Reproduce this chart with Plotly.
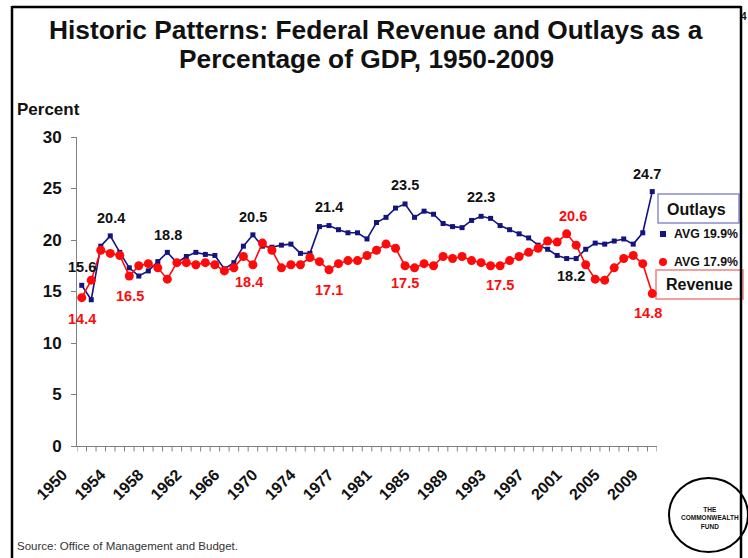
import plotly.graph_objects as go

# ---------------- data ----------------
years = [str(y) for y in range(1950, 1977)] + ["TQ"] + [str(y) for y in range(1977, 2010)]

outlays = [15.6, 14.2, 19.4, 20.4, 18.8, 17.3, 16.5, 17.0, 17.9, 18.8,
           17.8, 18.4, 18.8, 18.6, 18.5, 17.2, 17.8, 19.4, 20.5, 19.4,
           19.3, 19.5, 19.6, 18.7, 18.7, 21.3, 21.4, 21.0, 20.7, 20.7,
           20.1, 21.7, 22.2, 23.1, 23.5, 22.2, 22.8, 22.5, 21.6, 21.3,
           21.2, 21.9, 22.3, 22.1, 21.4, 21.0, 20.6, 20.2, 19.5, 19.1,
           18.5, 18.2, 18.2, 19.1, 19.7, 19.6, 19.9, 20.1, 19.6, 20.7,
           24.7]

revenue = [14.4, 16.1, 19.0, 18.7, 18.5, 16.5, 17.5, 17.7, 17.3, 16.2,
           17.8, 17.8, 17.6, 17.8, 17.6, 17.0, 17.3, 18.4, 17.6, 19.7,
           19.0, 17.3, 17.6, 17.6, 18.3, 17.9, 17.1, 17.7, 18.0, 18.0,
           18.5, 19.0, 19.6, 19.2, 17.5, 17.3, 17.7, 17.5, 18.4, 18.2,
           18.4, 18.0, 17.8, 17.5, 17.5, 18.0, 18.4, 18.8, 19.2, 19.9,
           19.8, 20.6, 19.5, 17.6, 16.2, 16.1, 17.3, 18.2, 18.5, 17.7,
           14.8]

tick_labels = ["1950", "1954", "1958", "1962", "1966", "1970", "1974", "1977",
               "1981", "1985", "1989", "1993", "1997", "2001", "2005", "2009"]

outlay_label_years = ["1950", "1953", "1959", "1968", "1976", "1983", "1991", "2001", "2009"]
revenue_label_years = ["1950", "1955", "1967", "1976", "1983", "1993", "2000", "2009"]

avg_outlays = "AVG 19.9%"
avg_revenue = "AVG 17.9%"

# ---------------- style ----------------
W, H = 748, 558
FONT = "Arial, 'Liberation Sans', sans-serif"
BLUE = "#14147f"
RED = "#ff0a0a"

def px(x):
    return x / W

def py(y):
    return 1 - y / H

xs = list(range(len(years)))
idx = {y: i for i, y in enumerate(years)}
xrange_ = [-0.5, len(years) - 0.5]
boundaries = [i - 0.5 for i in range(len(years) + 1)]

fig = go.Figure()
fig.add_trace(go.Scatter(x=xs, y=outlays, mode="lines+markers",
                         line=dict(color=BLUE, width=1.6),
                         marker=dict(symbol="square", size=5, color=BLUE),
                         showlegend=False, hoverinfo="skip"))
fig.add_trace(go.Scatter(x=xs, y=revenue, mode="lines+markers",
                         line=dict(color=RED, width=1.6),
                         marker=dict(symbol="circle", size=9, color=RED),
                         showlegend=False, hoverinfo="skip"))

annotations = []
# data labels
out_shift = {"1950": (0, 18), "1953": (1, 18), "1959": (1, 17), "1968": (0, 18),
             "1976": (0, 19), "1983": (0, 19), "1991": (0, 19), "2001": (-5, -17),
             "2009": (-5, 18)}
for yr in outlay_label_years:
    i = idx[yr]
    dx, dy = out_shift[yr]
    annotations.append(dict(x=i, y=outlays[i], xref="x", yref="y", text=f"{outlays[i]:.1f}",
                            showarrow=False, xshift=dx, yshift=dy, xanchor="center", yanchor="middle",
                            font=dict(family=FONT, size=14.5, color="#111111", weight="bold")))
rev_shift = {"1950": (0, -21), "1955": (1, -20), "1967": (6, -26), "1976": (0, -20),
             "1983": (0, -17), "1993": (0, -19), "2000": (6, 18), "2009": (-4, -19)}
for yr in revenue_label_years:
    i = idx[yr]
    dx, dy = rev_shift[yr]
    annotations.append(dict(x=i, y=revenue[i], xref="x", yref="y", text=f"{revenue[i]:.1f}",
                            showarrow=False, xshift=dx, yshift=dy, xanchor="center", yanchor="middle",
                            font=dict(family=FONT, size=14.5, color=RED, weight="bold")))

def note(x, y, text, size, anchor="center", bold=True, color="#111111"):
    f = dict(family=FONT, size=size, color=color)
    if bold:
        f["weight"] = "bold"
    return dict(x=px(x), y=py(y), xref="paper", yref="paper", showarrow=False,
                xanchor=anchor, yanchor="middle", text=text, font=f)

annotations += [
    note(376, 30.5, "Historic Patterns: Federal Revenue and Outlays as a", 26.3),
    note(366, 58.5, "Percentage of GDP, 1950-2009", 26.3),
    note(15, 110, "Percent", 17, anchor="left"),
    note(15, 546, "Source: Office of Management and Budget.", 11.5, anchor="left",
         bold=False, color="#333333"),
    note(744, 16, "4", 10),
    note(696, 209, "Outlays", 16),
    note(699, 284, "Revenue", 16),
    note(672, 234, avg_outlays, 12.3, anchor="left"),
    note(672, 262, avg_revenue, 12.3, anchor="left"),
    note(710, 518, "THE<br>COMMONWEALTH<br>FUND", 6.5),
]

shapes = [
    # slide frame
    dict(type="line", xref="paper", yref="paper", x0=px(12), x1=px(12), y0=py(6), y1=py(560),
         line=dict(color="black", width=2.5)),
    dict(type="line", xref="paper", yref="paper", x0=px(12), x1=px(741), y0=py(7), y1=py(7),
         line=dict(color="black", width=2.5)),
    dict(type="line", xref="paper", yref="paper", x0=px(741), x1=px(741), y0=py(6), y1=py(560),
         line=dict(color="black", width=2.5)),
    # legend boxes
    dict(type="rect", xref="paper", yref="paper", x0=px(658), x1=px(739), y0=py(194), y1=py(223),
         line=dict(color="#8a8ad0", width=1.5), fillcolor="white", layer="below"),
    dict(type="rect", xref="paper", yref="paper", x0=px(656), x1=px(743), y0=py(270), y1=py(299),
         line=dict(color="#f08080", width=1.5), fillcolor="white", layer="below"),
    # legend symbols
    dict(type="rect", xref="paper", yref="paper", x0=px(660), x1=px(666), y0=py(231), y1=py(237),
         line=dict(width=0), fillcolor=BLUE),
    dict(type="circle", xref="paper", yref="paper", x0=px(659), x1=px(667), y0=py(258), y1=py(266),
         line=dict(width=0), fillcolor=RED),
    # logo circle
    dict(type="circle", xref="paper", yref="paper", x0=px(669), x1=px(748), y0=py(478), y1=py(552),
         line=dict(color="black", width=2), fillcolor="white", layer="below"),
]
# category-boundary tick marks under the x axis
for b in boundaries:
    shapes.append(dict(type="line", xref="x", yref="paper", x0=b, x1=b,
                       y0=py(446), y1=py(451.5), line=dict(color="#808080", width=1)))

fig.update_layout(
    width=W, height=H,
    margin=dict(l=0, r=0, t=0, b=0, pad=0, autoexpand=False),
    paper_bgcolor="white", plot_bgcolor="white",
    annotations=annotations, shapes=shapes,
    showlegend=False,
    xaxis=dict(domain=[px(77), px(657)], range=xrange_,
               tickmode="array", tickvals=[idx[t] for t in tick_labels], ticktext=tick_labels,
               tickangle=-45, ticks="", showgrid=False, zeroline=False, automargin=False,
               ticklabelstandoff=12, ticklabelshift=-19,
               showline=True, linecolor="#808080", linewidth=1,
               tickfont=dict(family=FONT, size=16, color="#111111", weight="bold")),
    yaxis=dict(domain=[1 - 446 / H, 1 - 137 / H], range=[0, 30],
               tickmode="array", tickvals=[0, 5, 10, 15, 20, 25, 30],
               ticks="outside", ticklen=5, tickcolor="#808080", automargin=False,
               ticklabelstandoff=6,
               showgrid=False, zeroline=False,
               showline=True, linecolor="#808080", linewidth=1,
               tickfont=dict(family=FONT, size=17, color="#111111", weight="bold")),
)

fig.write_html("out.html", config={"displayModeBar": False},
               post_script="document.body.style.margin='0';")
